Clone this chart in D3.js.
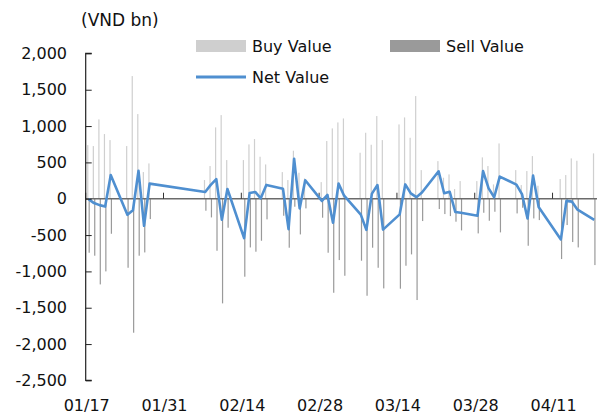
<!DOCTYPE html>
<html>
<head>
<meta charset="utf-8">
<script src="https://cdn.jsdelivr.net/npm/d3@7"></script>
<style>
  html, body { margin: 0; padding: 0; background: #fff; }
  svg { display: block; font-family: "DejaVu Sans", sans-serif; }
</style>
</head>
<body>
<svg id="chart" width="597" height="418"></svg>
<script>
// trading days (2022), values in VND bn
const dates = [
  '2022-01-17','2022-01-18','2022-01-19','2022-01-20','2022-01-21','2022-01-24','2022-01-25','2022-01-26','2022-01-27','2022-01-28',
  '2022-02-07','2022-02-08','2022-02-09','2022-02-10','2022-02-11','2022-02-14','2022-02-15','2022-02-16','2022-02-17','2022-02-18',
  '2022-02-21','2022-02-22','2022-02-23','2022-02-24','2022-02-25','2022-02-28',
  '2022-03-01','2022-03-02','2022-03-03','2022-03-04','2022-03-07','2022-03-08','2022-03-09','2022-03-10','2022-03-11',
  '2022-03-14','2022-03-15','2022-03-16','2022-03-17','2022-03-18','2022-03-21','2022-03-22','2022-03-23','2022-03-24','2022-03-25',
  '2022-03-28','2022-03-29','2022-03-30','2022-03-31','2022-04-01',
  '2022-04-04','2022-04-05','2022-04-06','2022-04-07','2022-04-08','2022-04-12','2022-04-13','2022-04-14','2022-04-15','2022-04-18'
];
const buyValue = [
  738, 725, 1092, 890, 807, 725, 1688, 1165, 367, 486,
  257, 450, 982, 1151, 532, 532, 748, 821, 578, 472,
  367, 257, 661, 358, 280, 229,
  794, 968, 1050, 1105, 633, 908, 743, 1138, 807,
  1023, 1119, 839, 1413, 394, 518, 289, 335, 133, 243,
  243, 569, 450, 197, 761,
  394, 188, 381, 587, 179, 271, 326, 555, 523, 624
];
const sellValue = [
  743, 784, 1179, 1000, 482, 950, 1844, 784, 739, 280,
  165, 257, 716, 1440, 399, 1073, 670, 729, 578, 284,
  234, 674, 110, 491, 133, 261,
  743, 1294, 844, 1060, 853, 1335, 674, 950, 1234,
  1238, 922, 766, 1394, 307, 142, 211, 239, 316, 436,
  477, 193, 303, 179, 463,
  202, 124, 647, 271, 294, 830, 362, 596, 670, 913
];
const netValue = [
  -5, -60, -88, -108, 325, -222, -158, 383, -372, 208,
  93, 190, 270, -290, 134, -543, 80, 93, 5, 190,
  136, -418, 551, -133, 254, -30,
  53, -330, 208, 42, -218, -428, 70, 188, -425,
  -215, 197, 73, 22, 85, 378, 76, 96, -182, -193,
  -234, 380, 142, 20, 305,
  195, 64, -272, 318, -115, -560, -30, -40, -150, -290
];
const yTicks = [2000, 1500, 1000, 500, 0, -500, -1000, -1500, -2000, -2500];

const parse = d3.timeParse('%Y-%m-%d');
const rows = dates.map((d, i) => ({ date: parse(d), buy: buyValue[i], sell: sellValue[i], net: netValue[i] }));

const svg = d3.select('#chart');
const plotL = 85.7, plotR = 597, plotT = 53.4, plotB = 380.4;

const x = d3.scaleTime()
  .domain([parse('2022-01-17'), parse('2022-04-19')])
  .range([plotL, plotR]);
const dayW = x(parse('2022-01-18')) - x(parse('2022-01-17'));
const cx = d => x(d) + dayW / 2;

const y = d3.scaleLinear().domain([-2500, 2000]).range([plotB, plotT]);

// bars: buy (up) and sell (down) side by side
const bars = svg.append('g');
bars.selectAll('rect.buy').data(rows).join('rect')
  .attr('class', 'buy')
  .attr('x', d => cx(d.date) - 1.3)
  .attr('width', 1.2)
  .attr('y', d => y(d.buy))
  .attr('height', d => y(0) - y(d.buy))
  .attr('fill', '#cfcfcf');
bars.selectAll('rect.sell').data(rows).join('rect')
  .attr('class', 'sell')
  .attr('x', d => cx(d.date) + 0.1)
  .attr('width', 1.2)
  .attr('y', y(0))
  .attr('height', d => y(-d.sell) - y(0))
  .attr('fill', '#9a9a9a');

// zero line with date ticks
const xTicks = d3.timeDay.range(parse('2022-01-17'), parse('2022-04-19'), 14);
svg.append('line')
  .attr('x1', plotL).attr('x2', plotR)
  .attr('y1', y(0)).attr('y2', y(0))
  .attr('stroke', '#6b6b6b').attr('stroke-width', 1.5);
svg.append('g').selectAll('line').data(xTicks).join('line')
  .attr('x1', d => x(d)).attr('x2', d => x(d))
  .attr('y1', y(0)).attr('y2', y(0) - 6)
  .attr('stroke', '#333').attr('stroke-width', 1);

// net line
const line = d3.line().x(d => cx(d.date)).y(d => y(d.net));
svg.append('path')
  .datum(rows)
  .attr('d', line)
  .attr('fill', 'none')
  .attr('stroke', '#4f8fd0')
  .attr('stroke-width', 2.6)
  .attr('stroke-linejoin', 'round');

// y axis (ticks inward)
const yAxis = d3.axisRight(y).tickValues(yTicks).tickSize(6).tickFormat('');
const gy = svg.append('g').attr('transform', `translate(${plotL},0)`).call(yAxis);
gy.select('.domain').attr('stroke', '#222').attr('stroke-width', 1.2).attr('d', `M6,${plotT}H0V${plotB}H6`);
gy.selectAll('.tick line').attr('stroke', '#222');

svg.append('g').selectAll('text').data(yTicks).join('text')
  .attr('x', 67)
  .attr('y', d => y(d))
  .attr('dy', '0.35em')
  .attr('text-anchor', 'end')
  .attr('font-size', 16)
  .attr('fill', '#111')
  .text(d => d3.format(',')(d).replace('−', '-'));

// x labels
const fmt = d3.timeFormat('%m/%d');
svg.append('g').selectAll('text').data(xTicks).join('text')
  .attr('x', d => x(d) + 1)
  .attr('y', 405)
  .attr('dy', '0.35em')
  .attr('text-anchor', 'middle')
  .attr('font-size', 16)
  .attr('fill', '#111')
  .text(d => fmt(d));

// unit label
svg.append('text')
  .attr('x', 81).attr('y', 26)
  .attr('font-size', 17).attr('fill', '#111')
  .text('(VND bn)');

// legend
const lg = svg.append('g');
lg.append('rect').attr('x', 196).attr('y', 40).attr('width', 50).attr('height', 12).attr('fill', '#cfcfcf');
lg.append('text').attr('x', 252).attr('y', 46).attr('dy', '0.35em').attr('font-size', 16).attr('fill', '#111').text('Buy Value');
lg.append('rect').attr('x', 390).attr('y', 40).attr('width', 50).attr('height', 12).attr('fill', '#9a9a9a');
lg.append('text').attr('x', 446).attr('y', 46).attr('dy', '0.35em').attr('font-size', 16).attr('fill', '#111').text('Sell Value');
lg.append('line').attr('x1', 196).attr('x2', 246).attr('y1', 77).attr('y2', 77).attr('stroke', '#4f8fd0').attr('stroke-width', 3);
lg.append('text').attr('x', 252).attr('y', 77).attr('dy', '0.35em').attr('font-size', 16).attr('fill', '#111').text('Net Value');
</script>
</body>
</html>
